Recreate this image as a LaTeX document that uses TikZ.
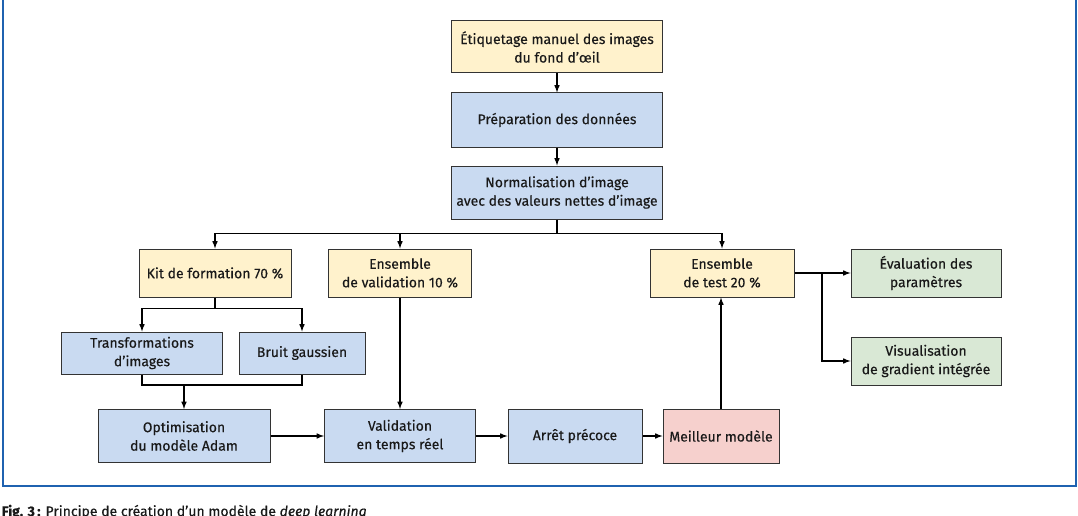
\documentclass[tikz,border=0pt]{standalone}
\usepackage{fontspec}
\setmainfont{Fira Sans}[FakeBold=0.35]
\usepackage{tikz}
\usetikzlibrary{positioning, calc, arrows}
\definecolor{jaune}{HTML}{FFF2CC}
\definecolor{bleu}{HTML}{C9DAF1}
\definecolor{vert}{HTML}{D9E8D5}
\definecolor{rose}{HTML}{F6D0CD}
\definecolor{cadre}{HTML}{1F62B0}
\tikzset{etape/.style={rectangle, inner sep=0pt, align=center, draw=black!80, line width=1pt, text=black!90, font=\fontsize{14}{18.5}\selectfont},
         donnees/.style={etape, fill=jaune},
         process/.style={etape, fill=bleu},
         resultat/.style={etape, fill=vert},
         modele/.style={etape, fill=rose},
         fleche/.style={line width=1.5pt,>=latex}}

\begin{document}
\begin{tikzpicture}[x=1pt, y=-1pt, fleche]
        \useasboundingbox (0,0) rectangle (1078,516);
        \draw[cadre, line width=2.5pt] (3,-10) rectangle (1076,486);

        \node (etiquetage)[donnees, minimum width=211pt, minimum height=52pt] at (557,47) {Étiquetage manuel des images\\du fond d’œil};
        \node (preparation)[process, minimum width=211pt, minimum height=54pt, below=19pt of etiquetage] {Préparation des données};
        \draw [fleche, ->] (etiquetage) -- (preparation);
        \node (normalisation)[process, minimum width=211pt, minimum height=53pt, below=18pt of preparation] {Normalisation d’image\\avec des valeurs nettes d’image};
        \draw [fleche, ->] (preparation) -- (normalisation);
        \coordinate (partage) at ($(normalisation.south)+(0,14)$);
        \draw [fleche] (normalisation) -- (partage);

        \node (kit)[donnees, minimum width=152pt, minimum height=48pt] at (215,273) {Kit de formation 70 \%};
        \node (valset)[donnees, minimum width=143pt, minimum height=48pt] at (400,273) {Ensemble\\de validation 10 \%};
        \node (testset)[donnees, minimum width=144pt, minimum height=48pt] at (722,273) {Ensemble\\de test 20 \%};
        \draw [fleche, ->] (partage) -| (kit.north);
        \draw [fleche, ->] (partage) -| (valset.north);
        \draw [fleche, ->] (partage) -| (testset.north);

        \node (transfo)[process, minimum width=161pt, minimum height=42pt] at (142,353) {Transformations\\d’images};
        \node (bruit)[process, minimum width=126pt, minimum height=42pt] at (302,353) {Bruit gaussien};
        \coordinate (partagekit) at ($(kit.south)+(0,11)$);
        \draw [fleche] (kit) -- (partagekit);
        \draw [fleche, ->] (partagekit) -| (transfo.north);
        \draw [fleche, ->] (partagekit) -| (bruit.north);

        \node (optim)[process, minimum width=172pt, minimum height=53pt] at (184,436) {Optimisation\\du modèle Adam};
        \coordinate (fusion) at ($(optim.north)+(0,-24)$);
        \draw [fleche] (transfo.south) |- (fusion) -| (bruit.south);
        \draw [fleche, ->] (fusion) -- (optim);

        \node (validation)[process, minimum width=151pt, minimum height=53pt] at (400,436) {Validation\\en temps réel};
        \draw [fleche, ->] (valset) -- (validation);
        \draw [fleche, ->] (optim) -- (validation);
        \node (arret)[process, minimum width=134pt, minimum height=54pt] at (575,436) {Arrêt précoce};
        \draw [fleche, ->] (validation) -- (arret);
        \node (meilleur)[modele, minimum width=116pt, minimum height=54pt] at (721,436) {Meilleur modèle};
        \draw [fleche, ->] (arret) -- (meilleur);
        \draw [fleche, ->] (meilleur) -- (meilleur |- testset.south);

        \node (evaluation)[resultat, minimum width=150pt, minimum height=48pt] at (926,273) {Évaluation des\\paramètres};
        \node (visualisation)[resultat, minimum width=150pt, minimum height=48pt] at (926,361) {Visualisation\\de gradient intégrée};
        \coordinate (partagetest) at (822,273);
        \draw [fleche] (testset) -- (partagetest);
        \draw [fleche, ->] (partagetest) -- (evaluation);
        \draw [fleche, ->] (partagetest) |- (visualisation);

        \node (legende)[anchor=north west, inner sep=0pt, text=black!90, font=\fontsize{14}{16}\selectfont] at (1,504) {\textbf{Fig. 3\,:} Principe de création d’un modèle de \textit{deep learning}};
    \end{tikzpicture}
\end{document}
